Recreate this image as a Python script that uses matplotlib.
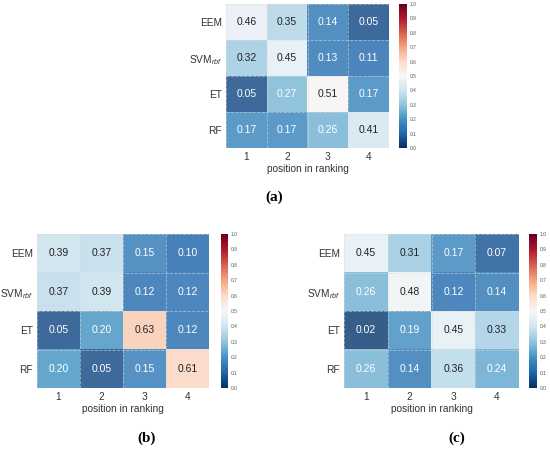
import numpy as np
import matplotlib
matplotlib.use("Agg")
import matplotlib.pyplot as plt
from matplotlib.colors import Normalize

models = ["EEM", "SVM$_{rbf}$", "ET", "RF"]
positions = ["1", "2", "3", "4"]

probs_a = [[0.46, 0.35, 0.14, 0.05],
           [0.32, 0.45, 0.13, 0.11],
           [0.05, 0.27, 0.51, 0.17],
           [0.17, 0.17, 0.26, 0.41]]
probs_b = [[0.39, 0.37, 0.15, 0.10],
           [0.37, 0.39, 0.12, 0.12],
           [0.05, 0.20, 0.63, 0.12],
           [0.20, 0.05, 0.15, 0.61]]
probs_c = [[0.45, 0.31, 0.17, 0.07],
           [0.26, 0.48, 0.12, 0.14],
           [0.02, 0.19, 0.45, 0.33],
           [0.26, 0.14, 0.36, 0.24]]

plt.rcParams['font.family'] = ['Liberation Sans', 'DejaVu Sans']
plt.rcParams['mathtext.fontset'] = 'custom'
plt.rcParams['mathtext.rm'] = 'Liberation Sans'
plt.rcParams['mathtext.it'] = 'Liberation Sans:italic'

W, H = 550, 449
ALPHA = 0.82
fig = plt.figure(figsize=(W / 100, H / 100), dpi=100)
cmap = plt.get_cmap("RdBu_r")
norm = Normalize(0, 1)


def px_axes(x0, x1, y0, y1):
    return fig.add_axes([x0 / W, 1 - y1 / H, (x1 - x0) / W, (y1 - y0) / H])


def text_color(v):
    r, g, b, _ = cmap(norm(v))
    lum = 0.2126 * r + 0.7152 * g + 0.0722 * b
    return "#222222" if lum > 0.7 else "white"


def heatmap(data, box, cbox, label, label_xy):
    data = np.array(data)
    ax = px_axes(*box)
    ax.imshow(data, cmap=cmap, norm=norm, aspect="auto", alpha=ALPHA)
    for i in range(data.shape[0]):
        for j in range(data.shape[1]):
            ax.text(j, i, f"{data[i, j]:.2f}", ha="center", va="center",
                    fontsize=7.5, color=text_color(data[i, j]))
    for k in np.arange(-0.5, 4, 1.0):
        ax.axhline(k, color="#dddddd", lw=0.6, ls="--", alpha=0.6)
        ax.axvline(k, color="#dddddd", lw=0.6, ls="--", alpha=0.6)
    ax.set_xticks(range(len(positions)))
    ax.set_xticklabels(positions)
    ax.set_yticks(range(len(models)))
    ax.set_yticklabels(models)
    ax.tick_params(length=0, labelsize=7.3, labelcolor="#333333", pad=3)
    ax.set_xlabel("position in ranking", fontsize=7.3, color="#333333", labelpad=1)
    for s in ax.spines.values():
        s.set_visible(False)

    cax = px_axes(*cbox)
    sm = plt.cm.ScalarMappable(norm=norm, cmap=cmap)
    cb = fig.colorbar(sm, cax=cax, ticks=np.arange(0, 1.01, 0.1))
    cb.ax.set_yticklabels([f"{t:.1f}" for t in np.arange(0, 1.01, 0.1)])
    cb.ax.tick_params(length=0, labelsize=3.5, labelcolor="#555555", pad=2)
    cb.outline.set_visible(False)

    fig.text(label_xy[0] / W, 1 - label_xy[1] / H, label, ha="center", va="center",
             fontsize=11, fontweight="bold", family="Liberation Serif")


heatmap(probs_a, (226, 389, 4, 148), (399, 407, 4, 148), "(a)", (274, 197))
heatmap(probs_b, (37, 209, 234, 388), (221, 228, 234, 388), "(b)", (147, 438))
heatmap(probs_c, (344, 519, 234, 388), (529, 537, 234, 388), "(c)", (457, 438))

fig.savefig("out.png", dpi=100)
